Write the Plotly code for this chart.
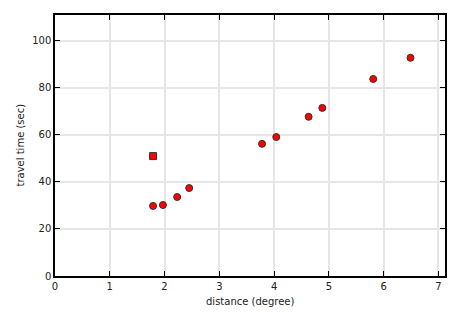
import plotly.graph_objects as go

sq_x = [1.79]
sq_y = [51.0]
pt_x = [1.79, 1.97, 2.23, 2.45, 3.78, 4.04, 4.63, 4.88, 5.81, 6.49]
pt_y = [29.8, 30.2, 33.6, 37.4, 56.2, 59.1, 67.7, 71.5, 83.8, 92.8]
x_ticks = [0, 1, 2, 3, 4, 5, 6, 7]
y_ticks = [0, 20, 40, 60, 80, 100]
x_title = "distance (degree)"
y_title = "travel time (sec)"

fig = go.Figure()
fig.add_trace(go.Scatter(x=sq_x, y=sq_y, mode="markers",
                         marker=dict(symbol="square", size=7, color="red",
                                     line=dict(color="#333333", width=1))))
fig.add_trace(go.Scatter(x=pt_x, y=pt_y, mode="markers",
                         marker=dict(symbol="circle", size=7, color="red",
                                     line=dict(color="#333333", width=1))))

axis_common = dict(showline=True, linecolor="black", linewidth=1.5, mirror="ticks",
                   ticks="inside", ticklen=5, tickcolor="black",
                   showgrid=True, gridcolor="#e6e6e6", gridwidth=1.5,
                   zeroline=False, automargin=False,
                   tickfont=dict(size=10, color="#222"))

fig.update_xaxes(range=[0, 7.12], tickvals=x_ticks, **axis_common)
fig.update_yaxes(range=[0, 111], tickvals=y_ticks, **axis_common)

fig.add_annotation(text=x_title, xref="paper", yref="paper", x=0.5, y=0,
                   xanchor="center", yanchor="middle", yshift=-25, showarrow=False,
                   font=dict(size=10, color="#222"))
fig.add_annotation(text=y_title, xref="paper", yref="paper", x=0, y=0.5,
                   xanchor="center", yanchor="middle", xshift=-35, textangle=-90,
                   showarrow=False, font=dict(size=10, color="#222"))

fig.update_layout(width=465, height=315, margin=dict(l=55, r=20, t=15, b=39),
                  showlegend=False, plot_bgcolor="white", paper_bgcolor="white",
                  font=dict(family="DejaVu Sans", size=10))
fig.write_html("out.html")
